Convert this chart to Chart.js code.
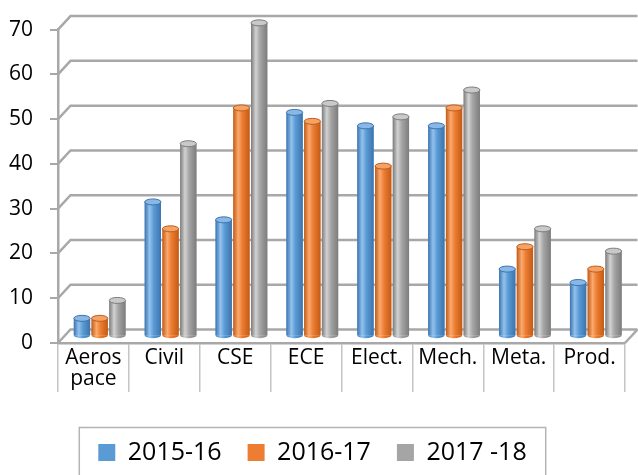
<!DOCTYPE html>
<html>
<head>
<meta charset="utf-8">
<script src="https://cdn.jsdelivr.net/npm/chart.js@4.4.1/dist/chart.umd.min.js"></script>
<style>
  html, body { margin: 0; padding: 0; background: #fff; }
  #wrap { width: 638px; height: 475px; }
</style>
</head>
<body>
<div id="wrap"><canvas id="bar-chart"></canvas></div>
<script>
// Chart data
const categories = [['Aeros', 'pace'], 'Civil', 'CSE', 'ECE', 'Elect.', 'Mech.', 'Meta.', 'Prod.'];
const seriesNames = ['2015-16', '2016-17', '2017 -18'];
const values2015 = [4, 30, 26, 50, 47, 47, 15, 12];
const values2016 = [4, 24, 51, 48, 38, 51, 20, 15];
const values2017 = [8, 43, 70, 52, 49, 55, 24, 19];
const yMax = 70;
const yStep = 10;

// Colours: [base, highlight, shadow, top]
const palette = [
    ['#5b9bd5', '#93c2ee', '#3b74ad', '#8ab8e6'],
    ['#ed7d31', '#f9aa70', '#c25b17', '#f5a267'],
    ['#a5a5a5', '#d2d2d2', '#7c7c7c', '#c9c9c9']
];

const DX = 12.5;   // depth of the 3D box
const DY = 13.5;
const gridColor = '#a8a8a8';

// Draws the back wall, floor and cylinder shading
const depthPlugin = {
    id: 'depth3d',
    beforeDatasetsDraw(chart) {
        const ctx = chart.ctx;
        const { left, right } = chart.chartArea;
        const ys = chart.scales.y;
        ctx.save();
        ctx.strokeStyle = gridColor;
        ctx.lineWidth = 2.5;
        ys.ticks.forEach(t => {
            const y = ys.getPixelForValue(t.value);
            ctx.beginPath();
            ctx.moveTo(left, y);
            ctx.lineTo(left + DX, y - DY);
            ctx.lineTo(right + DX, y - DY);
            ctx.stroke();
        });
        // floor right edge
        const y0 = ys.getPixelForValue(0);
        ctx.beginPath();
        ctx.moveTo(right, y0);
        ctx.lineTo(right + DX, y0 - DY);
        ctx.stroke();
        ctx.restore();

        // bars sit half way into the box
        ctx.save();
        ctx.translate(DX / 2, -DY / 2);
    },
    afterDatasetsDraw(chart) {
        const ctx = chart.ctx;
        chart.data.datasets.forEach((ds, di) => {
            const [base, light, dark, top] = palette[di];
            chart.getDatasetMeta(di).data.forEach(el => {
                const w = el.width;
                const l = el.x - w / 2;
                const g = ctx.createLinearGradient(l, 0, l + w, 0);
                g.addColorStop(0, dark);
                g.addColorStop(0.3, light);
                g.addColorStop(0.55, base);
                g.addColorStop(1, dark);
                ctx.fillStyle = g;
                ctx.fillRect(l, el.y, w, el.base - el.y);
                ctx.beginPath();
                ctx.ellipse(el.x, el.base, w / 2, 3, 0, 0, Math.PI);
                ctx.fill();
                ctx.beginPath();
                ctx.ellipse(el.x, el.y, w / 2, 3, 0, 0, 2 * Math.PI);
                ctx.fillStyle = top;
                ctx.fill();
                ctx.strokeStyle = dark;
                ctx.lineWidth = 1;
                ctx.stroke();
            });
        });
        ctx.restore();
    },
    afterDraw(chart) {
        // box round the legend
        const boxes = chart.legend.legendHitBoxes;
        if (!boxes || !boxes.length) return;
        const ctx = chart.ctx;
        const first = boxes[0], last = boxes[boxes.length - 1];
        const x1 = first.left - 19;
        const x2 = last.left + last.width + 19;
        const y1 = first.top - 12.5;
        ctx.save();
        ctx.strokeStyle = '#b4b4b4';
        ctx.lineWidth = 1.5;
        ctx.strokeRect(x1, y1, x2 - x1, 100);
        ctx.restore();
    }
};

const ctx = document.getElementById('bar-chart').getContext('2d');
const barChart = new Chart(ctx, {
    type: 'bar',
    data: {
        labels: categories,
        datasets: [
            { label: seriesNames[0], data: values2015, backgroundColor: palette[0][0] },
            { label: seriesNames[1], data: values2016, backgroundColor: palette[1][0] },
            { label: seriesNames[2], data: values2017, backgroundColor: palette[2][0] }
        ]
    },
    options: {
        responsive: true,
        maintainAspectRatio: false,
        animation: false,
        datasets: {
            bar: { categoryPercentage: 0.75, barPercentage: 0.92, clip: false }
        },
        layout: { padding: { top: 25, right: 13, left: 0, bottom: 0 } },
        plugins: {
            tooltip: { enabled: false },
            legend: {
                position: 'bottom',
                labels: {
                    boxWidth: 17,
                    boxHeight: 17,
                    padding: 26,
                    color: '#000',
                    font: { family: 'Open Sans', size: 25 }
                }
            }
        },
        scales: {
            x: {
                afterFit: s => { s.height = 71; },
                grid: {
                    offset: true,
                    drawOnChartArea: false,
                    tickLength: 49,
                    color: '#c4c4c4',
                    lineWidth: 1.5
                },
                border: { display: true, color: gridColor, width: 2.5 },
                ticks: {
                    color: '#000',
                    padding: -44,
                    maxRotation: 0,
                    font: { family: 'Open Sans', size: 21, lineHeight: 1.0 }
                }
            },
            y: {
                min: 0,
                max: yMax,
                afterFit: s => { s.width = 58; },
                grid: {
                    drawOnChartArea: false,
                    tickLength: 8,
                    color: gridColor,
                    lineWidth: 2
                },
                border: { display: true, color: gridColor, width: 2.5 },
                ticks: {
                    stepSize: yStep,
                    padding: 17,
                    color: '#000',
                    font: { family: 'Open Sans', size: 21 }
                }
            }
        }
    },
    plugins: [depthPlugin]
});
</script>
</body>
</html>
